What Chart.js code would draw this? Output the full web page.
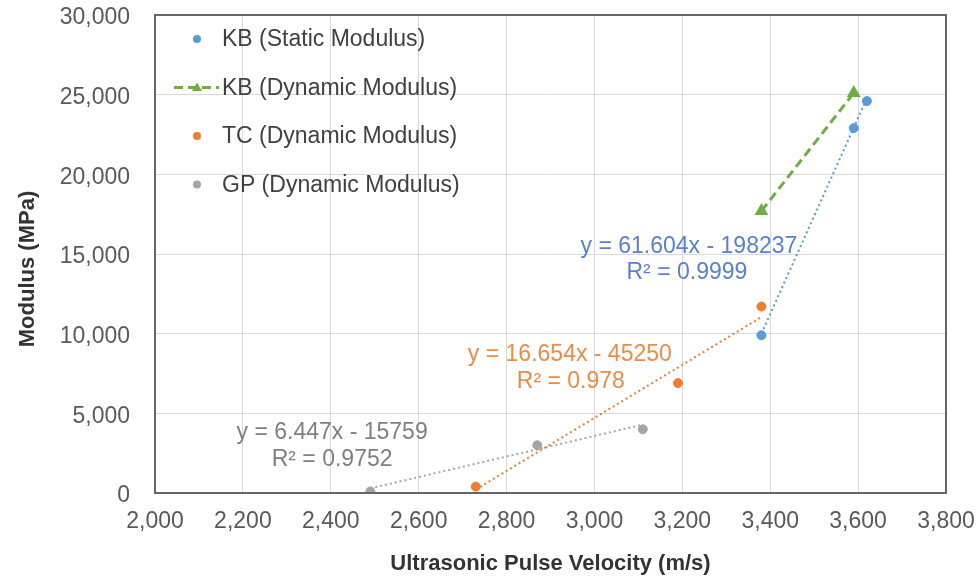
<!DOCTYPE html>
<html><head><meta charset="utf-8">
<script src="https://cdn.jsdelivr.net/npm/chart.js@4.4.0/dist/chart.umd.min.js"></script>
<style>html,body{margin:0;padding:0;background:#fff}#wrap{width:978px;height:577px;position:relative}</style>
</head><body><div id="wrap"><canvas id="c"></canvas></div>
<script>
// ---- data ----
const seriesNames = ['KB (Static Modulus)', 'KB (Dynamic Modulus)', 'TC (Dynamic Modulus)', 'GP (Dynamic Modulus)'];
const kbStaticVelocity = [3380, 3590, 3620];
const kbStaticModulus = [9900, 22900, 24600];
const kbDynamicVelocity = [3380, 3590];
const kbDynamicModulus = [17700, 25100];
const tcVelocity = [2730, 3190, 3380];
const tcModulus = [400, 6900, 11700];
const gpVelocity = [2490, 2870, 3110];
const gpModulus = [100, 3000, 4000];
// linear trendline end points
const kbStaticTrendVelocity = [3380, 3620];
const kbStaticTrendModulus = [10000, 24770];
const tcTrendVelocity = [2730, 3380];
const tcTrendModulus = [220, 11040];
const gpTrendVelocity = [2490, 3110];
const gpTrendModulus = [290, 4290];
const trendEquations = ['y = 61.604x - 198237', 'y = 16.654x - 45250', 'y = 6.447x - 15759'];
const trendR2 = ['R² = 0.9999', 'R² = 0.978', 'R² = 0.9752'];
const xTickValues = [2000, 2200, 2400, 2600, 2800, 3000, 3200, 3400, 3600, 3800];
const yTickValues = [0, 5000, 10000, 15000, 20000, 25000, 30000];
const xTitle = 'Ultrasonic Pulse Velocity (m/s)';
const yTitle = 'Modulus (MPa)';

const pts = (xs, ys) => xs.map((x, i) => ({x: x, y: ys[i]}));
const FONT = "'Liberation Sans', Arial, sans-serif";
const C = {blue: '#5B9BD5', green: '#70AD47', orange: '#ED7D31', gray: '#A5A5A5'};

const framePlugin = {
  id: 'frame',
  afterDatasetsDraw(chart) {
    const {ctx, chartArea: a, scales} = chart;
    const opt = chart.options.plugins.frame;
    ctx.save();
    ctx.strokeStyle = '#666666';
    ctx.lineWidth = 2;
    ctx.strokeRect(a.left, a.top, a.right - a.left, a.bottom - a.top);
    // y axis title
    ctx.save();
    ctx.translate(opt.yTitle.x, opt.yTitle.y);
    ctx.rotate(-Math.PI / 2);
    ctx.font = 'bold 22px ' + FONT;
    ctx.fillStyle = '#333333';
    ctx.textAlign = 'center';
    ctx.textBaseline = 'middle';
    ctx.fillText(yTitle, 0, 0);
    ctx.restore();
    // trendline equations
    ctx.font = '23px ' + FONT;
    ctx.textAlign = 'center';
    ctx.textBaseline = 'middle';
    opt.labels.forEach((e, i) => {
      const px = scales.x.getPixelForValue(e.x);
      const py = scales.y.getPixelForValue(e.y);
      ctx.fillStyle = e.color;
      ctx.fillText(trendEquations[i], px, py);
      ctx.fillText(trendR2[i], px + e.dx2, py + e.dy2);
    });
    // legend
    const lg = opt.legend;
    ctx.textAlign = 'left';
    ctx.font = '23px ' + FONT;
    seriesNames.forEach((name, i) => {
      const ds = chart.data.datasets[i];
      const y = lg.top + i * lg.gap;
      const mx = lg.marker;
      if (ds.showLine) {
        ctx.save();
        ctx.strokeStyle = ds.borderColor;
        ctx.lineWidth = ds.borderWidth;
        ctx.setLineDash(ds.borderDash);
        ctx.beginPath(); ctx.moveTo(mx - 23, y); ctx.lineTo(mx + 22, y); ctx.stroke();
        ctx.restore();
      }
      ctx.fillStyle = ds.backgroundColor;
      if (ds.pointStyle === 'triangle') {
        const r = 5;
        ctx.beginPath();
        ctx.moveTo(mx, y - r); ctx.lineTo(mx + r, y + r * 0.7); ctx.lineTo(mx - r, y + r * 0.7);
        ctx.closePath(); ctx.fill();
      } else {
        ctx.beginPath(); ctx.arc(mx, y, 4, 0, Math.PI * 2); ctx.fill();
      }
      ctx.fillStyle = '#404040';
      ctx.fillText(name, lg.text, y + 1);
    });
    ctx.restore();
  }
};

const trendDs = (xs, ys, color) => ({
  label: 'trend', data: pts(xs, ys), showLine: true, borderColor: color, borderWidth: 2,
  borderDash: [2, 3], pointRadius: 0, pointHoverRadius: 0, fill: false, order: 5
});

const zeroPad = s => { s.paddingTop = 0; s.paddingBottom = 0; s.paddingLeft = 0; s.paddingRight = 0; };

new Chart(document.getElementById('c'), {
  type: 'scatter',
  data: {
    datasets: [
      {label: seriesNames[0], data: pts(kbStaticVelocity, kbStaticModulus), backgroundColor: C.blue, borderColor: C.blue,
       pointRadius: 4.5, pointStyle: 'circle', showLine: false, order: 1},
      {label: seriesNames[1], data: pts(kbDynamicVelocity, kbDynamicModulus), backgroundColor: C.green, borderColor: C.green,
       pointRadius: 5, pointStyle: 'triangle', showLine: true, borderWidth: 3, borderDash: [9, 5], order: 1},
      {label: seriesNames[2], data: pts(tcVelocity, tcModulus), backgroundColor: C.orange, borderColor: C.orange,
       pointRadius: 4.5, pointStyle: 'circle', showLine: false, order: 1},
      {label: seriesNames[3], data: pts(gpVelocity, gpModulus), backgroundColor: C.gray, borderColor: C.gray,
       pointRadius: 4.5, pointStyle: 'circle', showLine: false, order: 1},
      trendDs(kbStaticTrendVelocity, kbStaticTrendModulus, C.blue),
      trendDs(tcTrendVelocity, tcTrendModulus, C.orange),
      trendDs(gpTrendVelocity, gpTrendModulus, C.gray)
    ]
  },
  options: {
    responsive: true, maintainAspectRatio: false, animation: false,
    layout: {padding: {left: 0, right: 32, top: 15, bottom: 0}},
    plugins: {
      legend: {display: false}, tooltip: {enabled: false},
      frame: {
        yTitle: {x: 28, y: 269},
        legend: {top: 39, gap: 48.5, marker: 197, text: 222},
        labels: [
          {x: 3215, y: 15440, dx2: -2, dy2: 26, color: '#5A80CF'},
          {x: 2944, y: 8660, dx2: 1, dy2: 27, color: '#EE8A45'},
          {x: 2403, y: 3770, dx2: 0, dy2: 27, color: '#7F7F7F'}
        ]
      }
    },
    scales: {
      x: {
        type: 'linear', min: 2000, max: 3800,
        afterBuildTicks: s => { s.ticks = xTickValues.map(v => ({value: v})); },
        afterFit: s => { s.height = 84; zeroPad(s); },
        grid: {color: '#D9D9D9', lineWidth: 1, drawTicks: false},
        border: {display: false},
        ticks: {color: '#595959', font: {family: FONT, size: 23}, padding: 15,
                callback: v => v.toLocaleString('en-US')},
        title: {display: true, text: xTitle, color: '#333333', font: {family: FONT, size: 22, weight: 'bold', lineHeight: 1.2},
                padding: {top: 0, bottom: 0}}
      },
      y: {
        type: 'linear', min: 0, max: 30000,
        afterBuildTicks: s => { s.ticks = yTickValues.map(v => ({value: v})); },
        afterFit: s => { s.width = 155; zeroPad(s); },
        grid: {color: '#D9D9D9', lineWidth: 1, drawTicks: false},
        border: {display: false},
        ticks: {color: '#595959', font: {family: FONT, size: 23}, padding: 25, labelOffset: 3,
                callback: v => v.toLocaleString('en-US')},
        title: {display: false, text: yTitle}
      }
    }
  },
  plugins: [framePlugin]
});
</script>
</body></html>
